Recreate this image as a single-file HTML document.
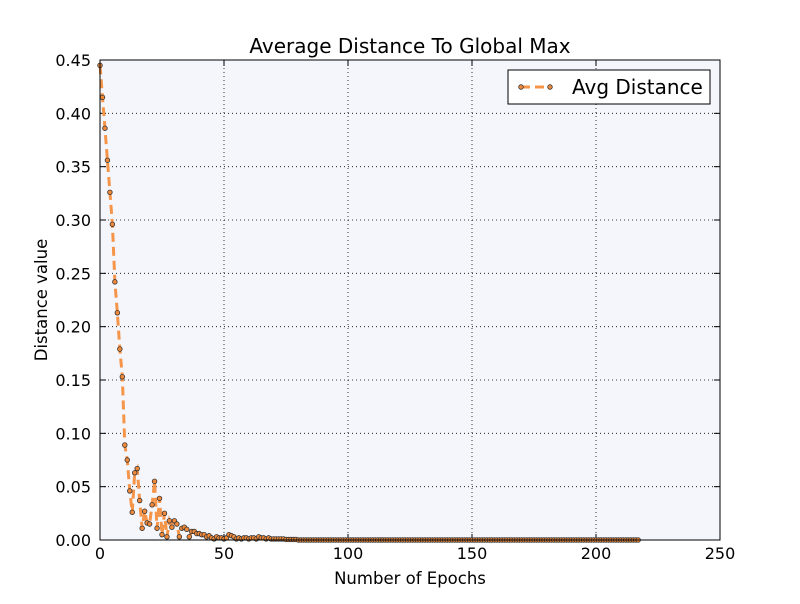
<!DOCTYPE html>
<html><head><meta charset="utf-8"><style>
body{margin:0;background:#fff;font-family:"DejaVu Sans","Liberation Sans",sans-serif}
svg text{font-family:"DejaVu Sans","Liberation Sans",sans-serif}
</style></head><body>
<svg id="c" width="800" height="600">
<rect x="0" y="0" width="800" height="600" fill="#ffffff"/>
<rect x="100" y="60" width="620" height="480" fill="#f5f6fc"/>
<g id="grid"></g><g id="ticks"></g><g id="series"></g>
<rect x="100" y="60" width="620" height="480" fill="none" stroke="#000" stroke-width="1"/>
<text x="410" y="53" font-size="20" text-anchor="middle">Average Distance To Global Max</text>
<text x="410" y="584" font-size="16.5" text-anchor="middle">Number of Epochs</text>
<text x="47" y="300" font-size="16.5" text-anchor="middle" transform="rotate(-90 47 300)">Distance value</text>
<g>
<rect x="508" y="70" width="202" height="34" fill="#fff" stroke="#000"/>
<line x1="521" y1="87" x2="550" y2="87" stroke="#f5954a" stroke-width="3" stroke-dasharray="9,5"/>
<circle cx="521" cy="87" r="2.3" fill="#f08a3a" stroke="#333" stroke-width="0.8"/>
<circle cx="550" cy="87" r="2.3" fill="#f08a3a" stroke="#333" stroke-width="0.8"/>
<text x="572" y="94" font-size="20">Avg Distance</text>
</g>
</svg>
<script>
const xTicks=[0,50,100,150,200,250];
const yTicks=[0.00,0.05,0.10,0.15,0.20,0.25,0.30,0.35,0.40,0.45];
const head=[0.445,0.415,0.386,0.356,0.326,0.296,0.242,0.213,0.179,0.153,0.089,0.075,0.046,0.026,0.063,0.067,0.037,0.011,0.027,0.016,0.015,0.033,0.055,0.011,0.039,0.005,0.025,0.003,0.018,0.012,0.018,0.015,0.003,0.011,0.012,0.010,0.003,0.008,0.008,0.006,0.006,0.005,0.005,0.003,0.004,0.002,0.001,0.003,0.002,0.002,0.001,0.002,0.005,0.004,0.003,0.001,0.002,0.001,0.002,0.002,0.001,0.002,0.002,0.001,0.003,0.002,0.002,0.001,0.002,0.001,0.001,0.001,0.001,0.001,0.001,0.0005,0.0005,0.0005,0.0005,0.0005];
const tail=new Array(218-head.length).fill(0);
const values=head.concat(tail);
const X=v=>100+v*620/250, Y=v=>540-v*480/0.45;
const ns="http://www.w3.org/2000/svg";
function mk(t,a,p){const e=document.createElementNS(ns,t);for(const k in a)e.setAttribute(k,a[k]);p.appendChild(e);return e;}
const g=document.getElementById('grid'),tk=document.getElementById('ticks'),s=document.getElementById('series');
xTicks.forEach(t=>{const x=X(t);
 if(t>0&&t<250)mk('line',{x1:x,y1:60,x2:x,y2:540,stroke:'#000','stroke-width':0.8,'stroke-dasharray':'1,3'},g);
 mk('line',{x1:x,y1:540,x2:x,y2:534,stroke:'#000'},tk);mk('line',{x1:x,y1:60,x2:x,y2:66,stroke:'#000'},tk);
 const l=mk('text',{x:x,y:559,'font-size':16,'text-anchor':'middle'},tk);l.textContent=t;
 
 });
yTicks.forEach(t=>{const y=Y(t);
 if(t>0&&t<0.45)mk('line',{x1:100,y1:y,x2:720,y2:y,stroke:'#000','stroke-width':0.8,'stroke-dasharray':'1,3'},g);
 mk('line',{x1:100,y1:y,x2:106,y2:y,stroke:'#000'},tk);mk('line',{x1:714,y1:y,x2:720,y2:y,stroke:'#000'},tk);
 const l=mk('text',{x:91,y:y+6,'font-size':16,'text-anchor':'end'},tk);l.textContent=t.toFixed(2);
 
 });
const pts=values.map((v,i)=>X(i)+','+Y(v)).join(' ');
const pl=mk('polyline',{points:pts,fill:'none',stroke:'#f5954a','stroke-width':3,'stroke-dasharray':'9,5'},s);


values.forEach((v,i)=>{const c=mk('circle',{cx:X(i),cy:Y(v),r:2.3,fill:'#f08a3a',stroke:'#333','stroke-width':0.8},s);
 
 });
</script>
</body></html>
